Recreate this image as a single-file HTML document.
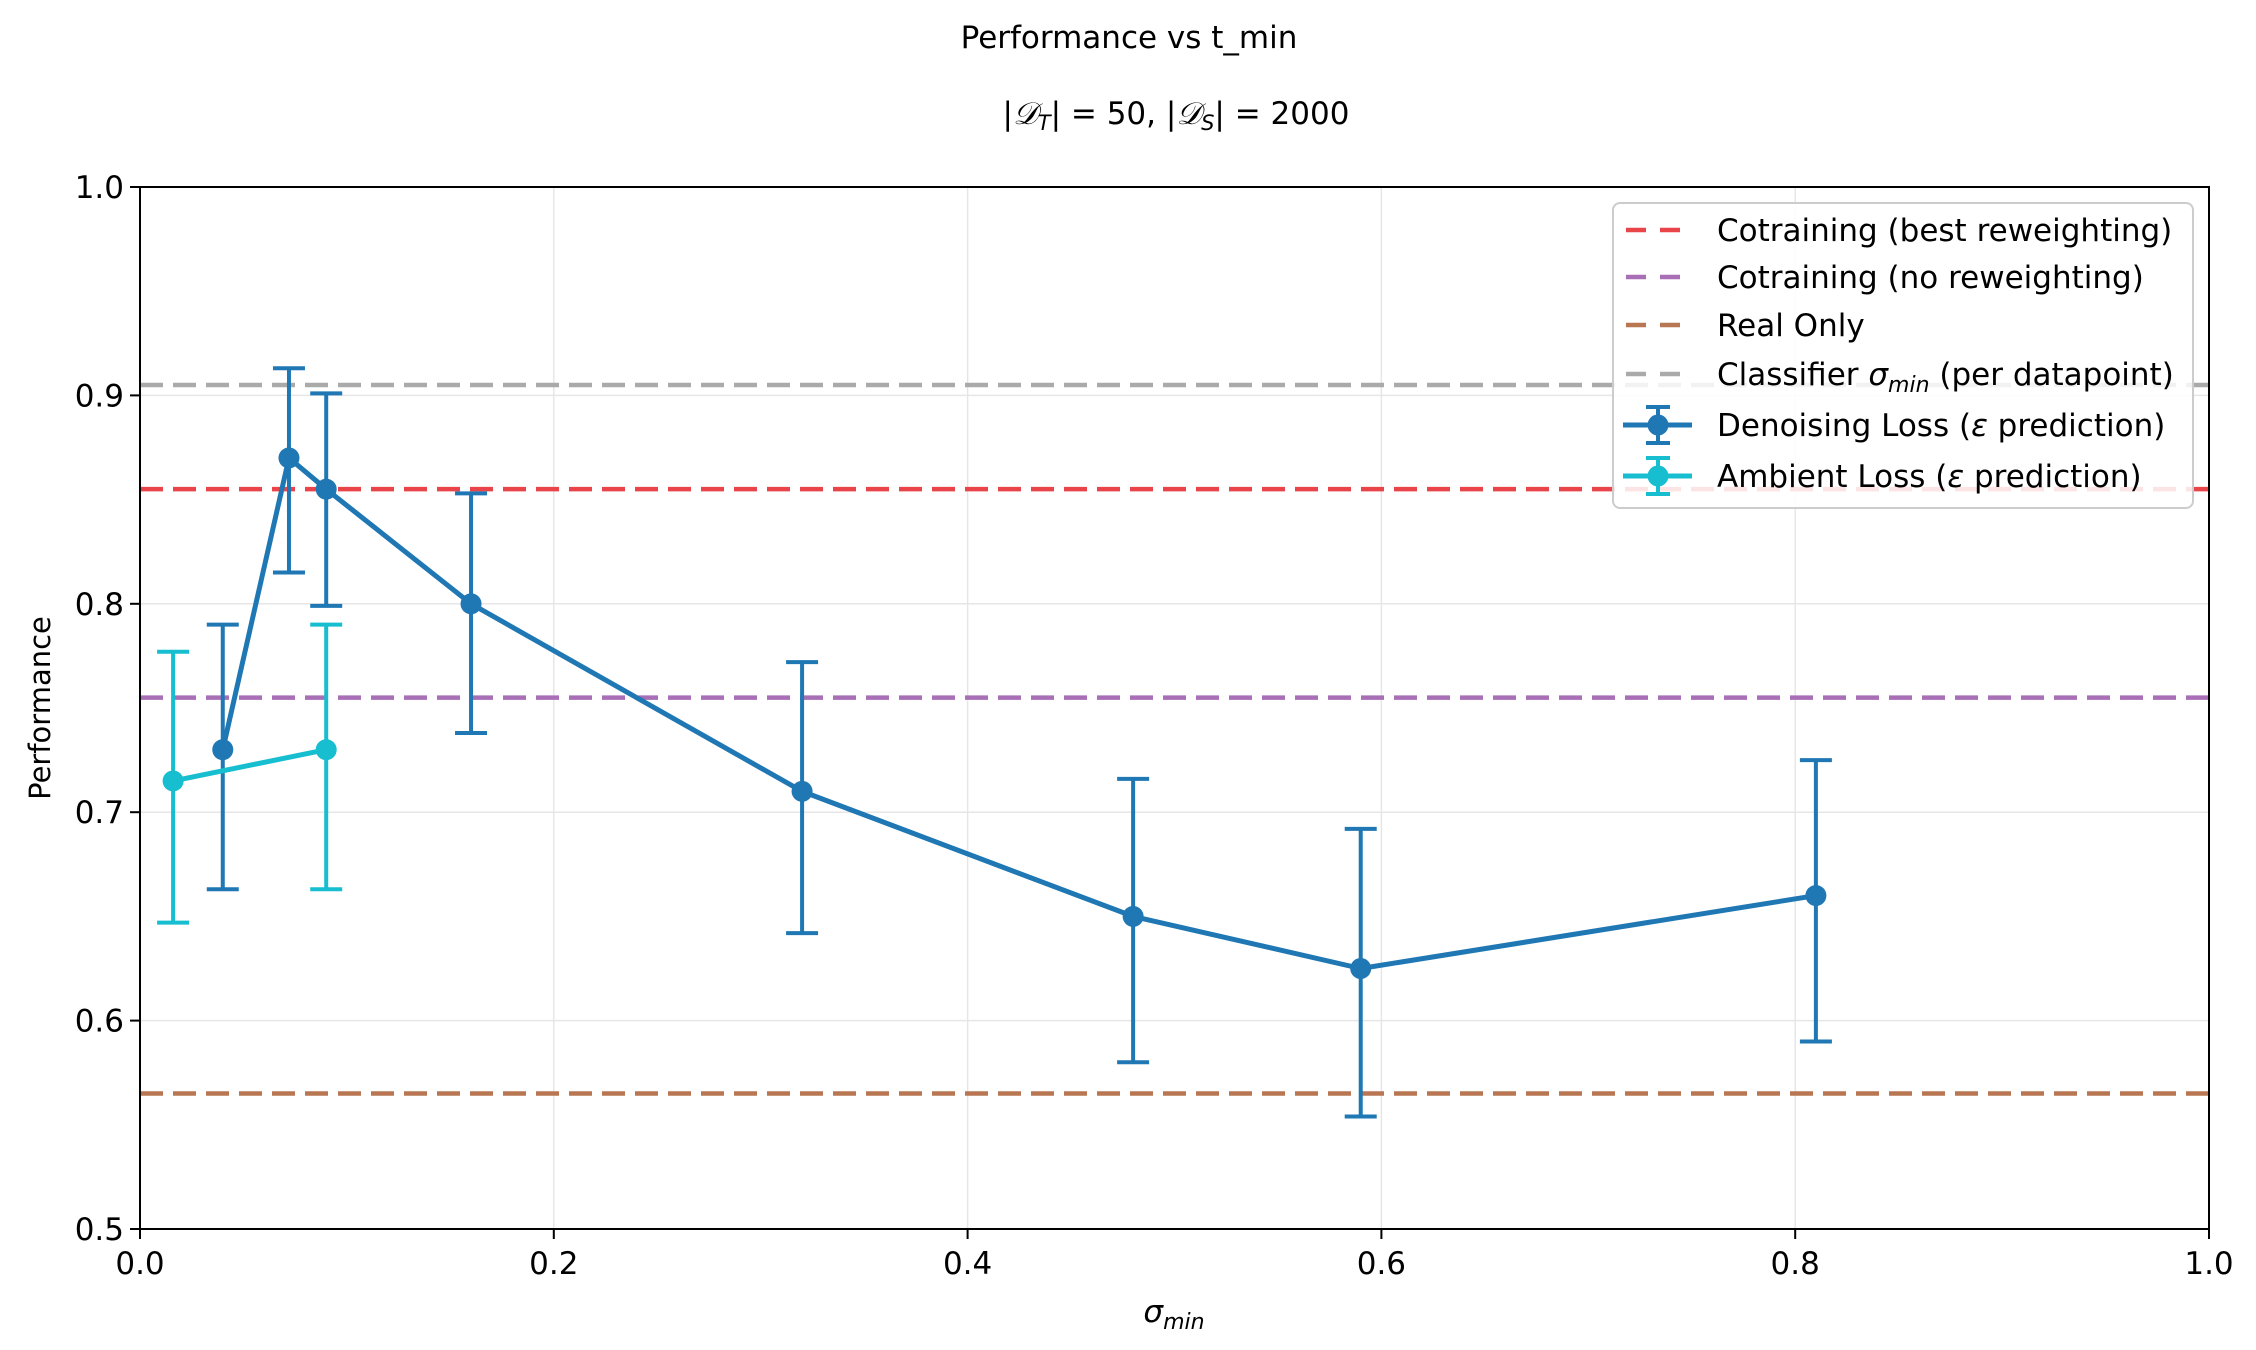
<!DOCTYPE html>
<html><head><meta charset="utf-8"><style>
html,body{margin:0;padding:0;background:#fff;}
svg{display:block;font-family:"DejaVu Sans","Liberation Sans",sans-serif;}
</style></head><body>
<svg id="chart" width="2256" height="1350" viewBox="0 0 2256 1350" xmlns="http://www.w3.org/2000/svg">
<rect width="2256" height="1350" fill="#fff"/>
<text x="1129" y="48" font-size="31" text-anchor="middle">Performance vs t_min</text>
<text x="1176" y="124" font-size="31" text-anchor="middle">|<tspan font-style="italic" font-family="Liberation Serif, serif">𝒟</tspan><tspan font-size="21" dy="6" font-style="italic">T</tspan><tspan dy="-6">| = 50, |</tspan><tspan font-style="italic" font-family="Liberation Serif, serif">𝒟</tspan><tspan font-size="21" dy="6" font-style="italic">S</tspan><tspan dy="-6">| = 2000</tspan></text>
<g id="grid"></g>
<g id="hlines"></g>
<g id="series"></g>
<g id="axes"></g>
<text x="1174" y="1322" font-size="31" text-anchor="middle" font-style="italic">σ<tspan font-size="22" dy="7">min</tspan></text>
<text transform="translate(50,708) rotate(-90)" font-size="29" text-anchor="middle">Performance</text>
<g id="legend"></g>
</svg>
<script>
const xTicks = [0.0, 0.2, 0.4, 0.6, 0.8, 1.0];
const yTicks = [0.5, 0.6, 0.7, 0.8, 0.9, 1.0];
const refNames = ["Cotraining (best reweighting)", "Cotraining (no reweighting)", "Real Only", "Classifier σmin (per datapoint)"];
const refValues = [0.855, 0.755, 0.565, 0.905];
const refColors = ["#e8444a", "#a86fb6", "#b87652", "#aaaaaa"];
const denX = [0.04, 0.072, 0.09, 0.16, 0.32, 0.48, 0.59, 0.81];
const denY = [0.73, 0.87, 0.855, 0.80, 0.71, 0.65, 0.625, 0.66];
const denLo = [0.663, 0.815, 0.799, 0.738, 0.642, 0.58, 0.554, 0.59];
const denHi = [0.79, 0.913, 0.901, 0.853, 0.772, 0.716, 0.692, 0.725];
const ambX = [0.016, 0.09];
const ambY = [0.715, 0.73];
const ambLo = [0.647, 0.663];
const ambHi = [0.777, 0.79];

const L=140, R=2209, T=187, B=1229;
const NS="http://www.w3.org/2000/svg";
const sx = v => L + (v-0)/(1-0)*(R-L);
const sy = v => B - (v-0.5)/(1.0-0.5)*(B-T);
function mk(tag, attrs, parent){const e=document.createElementNS(NS,tag);for(const k in attrs)e.setAttribute(k,attrs[k]);parent.appendChild(e);return e;}
const grid=document.getElementById('grid'), axes=document.getElementById('axes'), hl=document.getElementById('hlines'), ser=document.getElementById('series'), leg=document.getElementById('legend');

xTicks.forEach(t=>{
  const g=mk('line',{x1:sx(t),x2:sx(t),y1:T,y2:B,stroke:'#e6e6e6','stroke-width':1.5},grid);
  
  
  const tk=mk('line',{x1:sx(t),x2:sx(t),y1:B,y2:B+10,stroke:'#000','stroke-width':2},axes);
  
  
  const tx=mk('text',{x:sx(t),y:B+45,'font-size':31,'text-anchor':'middle'},axes);
  tx.textContent=t.toFixed(1);
  
  
});
yTicks.forEach(t=>{
  const g=mk('line',{x1:L,x2:R,y1:sy(t),y2:sy(t),stroke:'#e6e6e6','stroke-width':1.5},grid);
  
  
  const tk=mk('line',{x1:L-10,x2:L,y1:sy(t),y2:sy(t),stroke:'#000','stroke-width':2},axes);
  
  
  const tx=mk('text',{x:L-16,y:sy(t)+11,'font-size':31,'text-anchor':'end'},axes);
  tx.textContent=t.toFixed(1);
  
  
});
const frame=mk('rect',{x:L,y:T,width:R-L,height:B-T,fill:'none',stroke:'#000','stroke-width':2},axes);



refValues.forEach((v,i)=>{
  const l=mk('line',{x1:L,x2:R,y1:sy(v),y2:sy(v),stroke:refColors[i],'stroke-width':4.5,'stroke-dasharray':'23 10'},hl);
  
  
});

function drawSeries(xs,ys,lo,hi,color,name){
  const g=mk('g',{},ser);
  
  
  xs.forEach((x,i)=>{
    const e=mk('line',{x1:sx(x),x2:sx(x),y1:sy(lo[i]),y2:sy(hi[i]),stroke:color,'stroke-width':4},g);
    
    
    [lo[i],hi[i]].forEach(v=>{
      const c=mk('line',{x1:sx(x)-16,x2:sx(x)+16,y1:sy(v),y2:sy(v),stroke:color,'stroke-width':4},g);
      
      
    });
  });
  const p=mk('polyline',{points:xs.map((x,i)=>sx(x)+','+sy(ys[i])).join(' '),fill:'none',stroke:color,'stroke-width':5,'stroke-linejoin':'round'},g);
  
  
  xs.forEach((x,i)=>{
    const c=mk('circle',{cx:sx(x),cy:sy(ys[i]),r:10.5,fill:color},g);
    
    
  });
}
drawSeries(denX,denY,denLo,denHi,'#1f77b4','denoising-loss-series');
drawSeries(ambX,ambY,ambLo,ambHi,'#17becf','ambient-loss-series');

// legend
const box=mk('rect',{x:1613,y:203,width:580,height:305,rx:7,fill:'#fff','fill-opacity':0.85,stroke:'#cccccc','stroke-width':2},leg);


const rowsY=[230,277,325,374,425,476];
refNames.forEach((n,i)=>{
  const l=mk('line',{x1:1626,x2:1684,y1:rowsY[i],y2:rowsY[i],stroke:refColors[i],'stroke-width':4.5,'stroke-dasharray':'20 14'},leg);
  
  
  const t=mk('text',{x:1717,y:rowsY[i]+11,'font-size':31},leg);
  if(i===3){t.innerHTML='Classifier <tspan font-style="italic">σ</tspan><tspan font-style="italic" font-size="22" dy="7">min</tspan><tspan dy="-7"> (per datapoint)</tspan>';}
  else t.textContent=n;
  
  
});
[['Denoising Loss (','#1f77b4'],['Ambient Loss (','#17becf']].forEach((d,j)=>{
  const y=rowsY[4+j];
  mk('line',{x1:1623,x2:1692,y1:y,y2:y,stroke:d[1],'stroke-width':5},leg);
  mk('line',{x1:1658,x2:1658,y1:y-18,y2:y+18,stroke:d[1],'stroke-width':4},leg);
  mk('line',{x1:1646,x2:1670,y1:y-18,y2:y-18,stroke:d[1],'stroke-width':4},leg);
  mk('line',{x1:1646,x2:1670,y1:y+18,y2:y+18,stroke:d[1],'stroke-width':4},leg);
  mk('circle',{cx:1658,cy:y,r:10.5,fill:d[1]},leg);
  const t=mk('text',{x:1717,y:y+11,'font-size':31},leg);
  t.innerHTML=d[0]+'<tspan font-style="italic">ε</tspan> prediction)';
  
  
});
</script>
</body></html>
